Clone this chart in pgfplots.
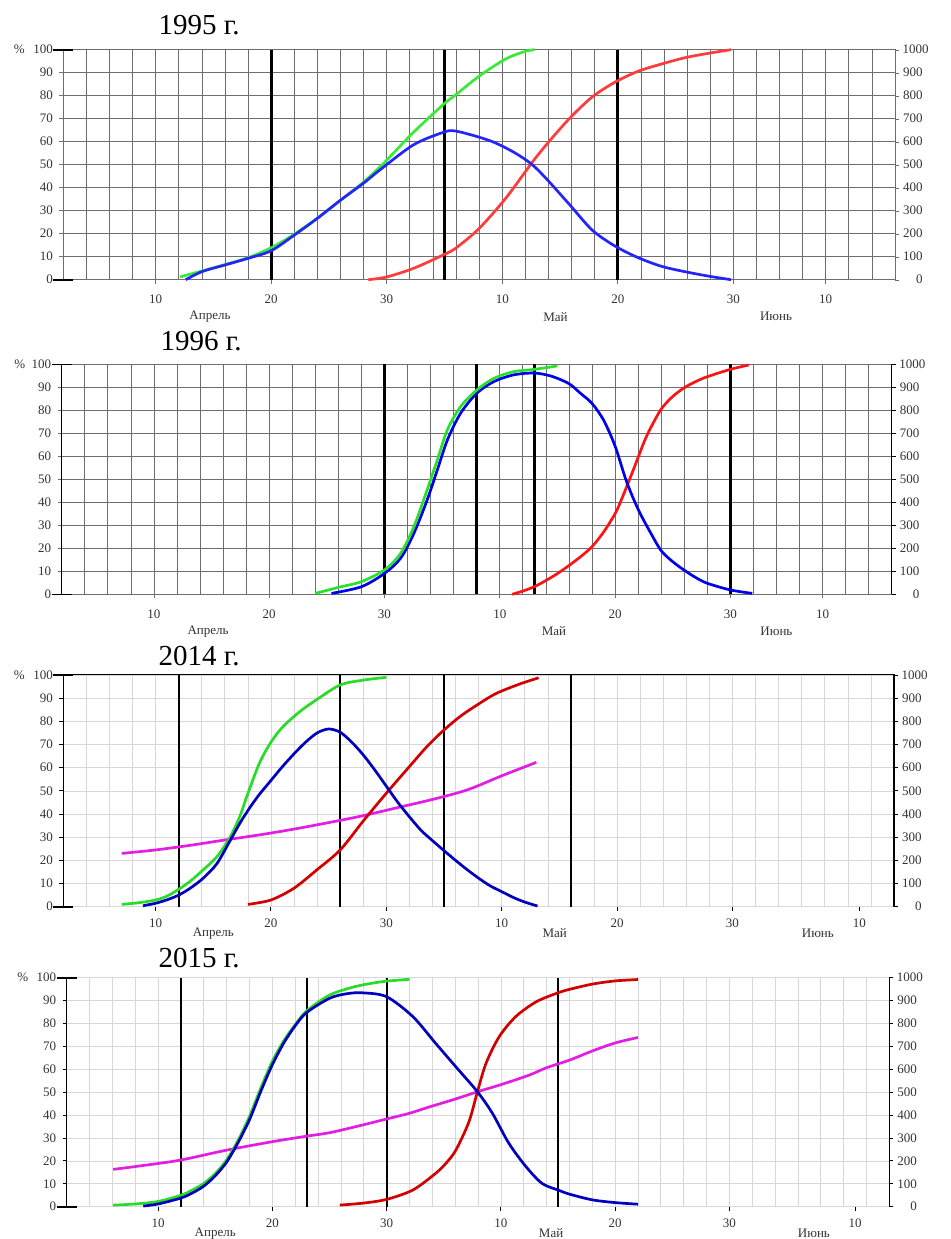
\documentclass[border=0pt]{standalone}
\usepackage{pgfplots}
\pgfplotsset{compat=1.18}
\usepackage{fontspec}
\setmainfont{Liberation Serif}
\definecolor{gA}{RGB}{55,235,55}
\definecolor{bA}{RGB}{36,36,255}
\definecolor{rA}{RGB}{255,59,59}
\definecolor{gB}{RGB}{40,225,40}
\definecolor{bB}{RGB}{0,0,235}
\definecolor{rB}{RGB}{250,20,20}
\definecolor{gC}{RGB}{40,220,40}
\definecolor{bC}{RGB}{0,0,190}
\definecolor{rC}{RGB}{210,0,0}
\definecolor{mC}{RGB}{225,30,225}
\definecolor{gridD}{RGB}{110,110,110}
\definecolor{gridL}{RGB}{215,215,215}
\newcommand{\tfont}{\fontsize{13}{14}\selectfont}
\tikzset{
  ttl/.style={anchor=base west, font=\fontsize{29}{30}\selectfont},
  mon/.style={font=\tfont, text=black!80},
}
\pgfplotsset{
  base/.style={scale only axis, xmin=2, xmax=74, ymin=0, ymax=100, clip=false,
    minor xtick={2,4,...,74}, xminorgrids, ymajorgrids, ytick={0,10,...,100},
    ytick pos=left, xtick pos=bottom, tick align=outside,
    major tick length=4pt, minor tick length=0pt,
    ticklabel style={font=\tfont, text=black!80},
    yticklabel style={xshift=-3pt},
    /pgf/number format/assume math mode=true,
    extra y ticks={0,100}, extra y tick labels={},
    extra y tick style={tick align=center, major tick length=20pt, tick style={black, line width=1.6pt}},
  },
  old/.style={base, minor grid style={gridD, line width=0.7pt}, major grid style={gridD, line width=0.7pt},
    xtick={10,20,30,40,50,60,68}, xticklabels={10,20,30,10,20,30,10},
    xticklabel style={yshift=-8pt}, tick style={gridD, line width=0.7pt}},
  new/.style={base, minor grid style={gridL, line width=0.7pt}, major grid style={gridL, line width=0.7pt},
    xtick={10,20,30,40,50,60,71}, xticklabels={10,20,30,10,20,30,10},
    xticklabel style={yshift=-5pt}, tick style={black, line width=1pt},
    axis line style={black, line width=1.3pt}},
  rightax/.style={scale only axis, xmin=2, xmax=74, ymin=0, ymax=1000, axis y line*=right, axis x line=none,
    ytick={0,100,...,1000}, tick align=outside, major tick length=4pt,
    yticklabel style={font=\tfont, text=black!80, anchor=west, text width=20pt, align=right, xshift=0pt},
    /pgf/number format/assume math mode=true, /pgf/number format/1000 sep={}},
  curve/.style={line width=2.7pt, smooth},
  vline/.style={black, line width=2.6pt},
}
\begin{document}
\begin{tikzpicture}[x=1pt,y=1pt]
\useasboundingbox (0,0) rectangle (950,-1239);
% ---------------- 1995 ----------------
\node[ttl] at (155,-35) {1995 г.};
\begin{axis}[old, at={(63.3pt,-279.7pt)}, anchor=south west, width=831.7pt, height=230pt,
  axis line style={gridD, line width=0.7pt}]
\addplot[vline] coordinates {(20,0) (20,100)};
\addplot[vline] coordinates {(35,0) (35,100)};
\addplot[vline] coordinates {(50,0) (50,100)};
\addplot[curve, rA] coordinates {(28.4,0) (30,1.2) (32.3,4.9) (34.86,10.7) (36,13.8) (38,22.3) (40.3,35.4) (42.5,50.4) (43.8,58.6) (45.8,70) (47.8,79.5) (49.8,86) (51.8,90.7) (53.8,93.8) (55.8,96.5) (57.8,98.4) (59.8,100)};
\addplot[curve, gA] coordinates {(12.1,1.2) (14,3.8) (16,6.6) (18,9.6) (20,13.9) (22,19.8) (24,26.8) (26,34.5) (28,42.5) (29.4,49) (30,52) (32.3,64) (34.86,76) (36,80.5) (38,88.5) (40.3,96) (42,99.3) (42.8,100)};
\addplot[curve, bA] coordinates {(12.6,0) (14,3.5) (16,6.4) (18,9.3) (20,12.6) (22,19.4) (24,26.7) (26,34.6) (28,42) (29.4,47.7) (32.3,58.6) (34.86,64) (36,64.6) (38.9,60.5) (40.9,55.7) (42.5,50.4) (43.8,44) (45.8,32.8) (47.8,21.5) (49.8,14.5) (51.8,9.5) (53.8,5.8) (55.8,3.5) (57.8,1.6) (59.8,0)};
\node[mon] at (axis cs:14.7,0) [yshift=-37pt] {Апрель};
\node[mon] at (axis cs:44.6,0) [yshift=-37pt] {Май};
\node[mon] at (axis cs:63.7,0) [yshift=-37pt] {Июнь};
\node[mon] at (rel axis cs:0,1) [xshift=-44pt] {\%};
\end{axis}
\begin{axis}[rightax, at={(63.3pt,-279.7pt)}, anchor=south west, width=831.7pt, height=230pt,
  axis line style={gridD, line width=0.7pt}, tick style={gridD}]
\node[mon, anchor=west] at (rel axis cs:1,1) [xshift=38pt] {°C};
\end{axis}
% ---------------- 1996 ----------------
\node[ttl] at (157,-350.7) {1996 г.};
\begin{axis}[old, at={(61.7pt,-594.3pt)}, anchor=south west, width=830pt, height=230pt,
  axis line style={black, line width=1.3pt}]
\addplot[vline] coordinates {(30,0) (30,100)};
\addplot[vline] coordinates {(38,0) (38,100)};
\addplot[vline] coordinates {(43,0) (43,100)};
\addplot[vline] coordinates {(60,0) (60,100)};
\addplot[curve, rB] coordinates {(41.08,0) (42,1.4) (43,3.3) (44,6) (45,9) (46,12.5) (47,16.3) (48,20.7) (49,27) (50,35) (50.5,40.5) (51,46.7) (51.5,53) (52,59.5) (52.5,66) (53,71.5) (54,80.5) (55,86) (56,89.8) (57,92.5) (58,94.6) (60,97.8) (61.6,99.7)};
\addplot[curve, bB] coordinates {(25.4,0.4) (28,3.3) (30,9.1) (31.4,15.7) (32.55,26.5) (33.7,41) (34.58,54) (35.45,67) (36.6,78.7) (38,87.4) (39.5,92.5) (41.2,95.4) (43,96.2) (44.5,94.8) (46,91.6) (47,87.4) (48,83) (49,75.8) (50,64.5) (51,49) (52,37) (53,27.5) (54,19) (55,14.2) (56,10.5) (57,7.3) (58,4.8) (60,1.9) (61.9,0.4)};
\addplot[curve, gB] coordinates {(24,0.4) (26,3) (28,5.5) (30,10.6) (31.4,17.8) (32.55,29.4) (33.7,45.4) (34.58,58.4) (35.45,71.4) (36.6,81.6) (38,88.8) (39.5,93.9) (41.2,96.8) (43,97.8) (45,99.3)};
\node[mon] at (axis cs:14.7,0) [yshift=-37pt] {Апрель};
\node[mon] at (axis cs:44.7,0) [yshift=-37pt] {Май};
\node[mon] at (axis cs:64,0) [yshift=-37pt] {Июнь};
\node[mon] at (rel axis cs:0,1) [xshift=-42pt] {\%};
\end{axis}
\begin{axis}[rightax, at={(61.7pt,-594.3pt)}, anchor=south west, width=830pt, height=230pt,
  axis line style={black, line width=1.3pt}, tick style={black}]
\node[mon, anchor=west] at (rel axis cs:1,1) [xshift=38pt] {°C};
\end{axis}
% ---------------- 2014 ----------------
\node[ttl] at (155,-665) {2014 г.};
\begin{axis}[new, at={(63.3pt,-906.7pt)}, anchor=south west, width=830.7pt, height=231.7pt]
\addplot[vline, line width=2pt] coordinates {(12,0) (12,100)};
\addplot[vline, line width=2pt] coordinates {(26,0) (26,100)};
\addplot[vline, line width=2pt] coordinates {(35,0) (35,100)};
\addplot[vline, line width=2pt] coordinates {(46,0) (46,100)};
\addplot[curve, mC] coordinates {(7.06,23) (10,24.5) (13,26.5) (16,28.8) (19,31) (22,33.5) (25,36.3) (28,39.3) (31,42.8) (34,46.3) (37,50.4) (40,56.5) (43,62.3)};
\addplot[curve, rC] coordinates {(18,1) (20,2.9) (22,8) (24,16) (26,24.5) (28,37) (30,49) (32,60.5) (33.5,69) (35,76.3) (36.5,82.5) (38,87.5) (39.5,92) (41.5,96) (43.2,98.8)};
\addplot[curve, gC] coordinates {(7.06,1) (8.5,1.7) (10,2.9) (11,4.6) (12,7.5) (13,11) (14.1,15.8) (15.3,21.5) (16.4,29.5) (17.3,39) (17.9,47.5) (19,62) (20,71) (21,77.5) (22.5,84.2) (24,89.5) (26,95.7) (28,97.8) (30,99)};
\addplot[curve, bC] coordinates {(8.9,0.4) (10,1.5) (11,3) (12,5) (13,8) (14.1,12.2) (15.3,18.5) (16.4,28) (17.3,36) (18.2,43) (19,48.5) (20,54.5) (21,60.5) (22,66) (23,71) (24,75) (25,76.7) (26,75.3) (27,71) (28,65.5) (29,59) (30,52) (31,45) (32,38.8) (33,33) (34,28.5) (35,24.2) (36,20) (37,16) (38,12.3) (39,9) (40,6.5) (41,4) (42,2) (43.1,0.3)};
\node[mon] at (axis cs:15,0) [yshift=-26.6pt] {Апрель};
\node[mon] at (axis cs:44.6,0) [yshift=-26.6pt] {Май};
\node[mon] at (axis cs:67.4,0) [yshift=-26.6pt] {Июнь};
\node[mon] at (rel axis cs:0,1) [xshift=-44pt] {\%};
\end{axis}
\begin{axis}[rightax, at={(63.3pt,-906.7pt)}, anchor=south west, width=830.7pt, height=231.7pt,
  axis line style={black, line width=1.3pt}, tick style={black, line width=1pt}]
\node[mon, anchor=west] at (rel axis cs:1,1) [xshift=38pt] {°C};
\end{axis}
% ---------------- 2015 ----------------
\node[ttl] at (155,-967.7) {2015 г.};
\begin{axis}[new, at={(66.7pt,-1206.7pt)}, anchor=south west, width=822.6pt, height=229pt]
\addplot[vline, line width=2pt] coordinates {(12,0) (12,100)};
\addplot[vline, line width=2pt] coordinates {(23,0) (23,100)};
\addplot[vline, line width=2pt] coordinates {(30,0) (30,100)};
\addplot[vline, line width=2pt] coordinates {(45,0) (45,100)};
\addplot[curve, mC] coordinates {(6.07,16.3) (9,18.2) (12,20.4) (16,24.7) (20,28.4) (23,30.8) (25,32.3) (27.5,35.2) (30,38.3) (32,40.8) (33.7,43.5) (36,47) (37.95,50.2) (40,53.3) (42.5,57.5) (44,60.7) (46,64) (48,68) (50,71.5) (52,73.9)};
\addplot[curve, rC] coordinates {(25.9,0.7) (28,1.6) (30,3.2) (32.3,7.3) (34.3,14.6) (35.2,19) (36.06,24.7) (37.2,37) (37.95,50.2) (38.7,62.6) (39.85,74.2) (41.3,83) (43.1,89.5) (45,93.4) (46,94.9) (48,97.2) (50,98.6) (52,99.2)};
\addplot[curve, gC] coordinates {(6.07,0.7) (8,1.2) (10,2.3) (12,5) (13,7.3) (14,10.2) (15,14.5) (16,20.5) (17,29) (18,39.5) (19,52) (20,63.5) (21,72.5) (22,79.5) (23,85.5) (25,92.4) (27,95.8) (28.5,97.4) (30,98.5) (32,99.3)};
\addplot[curve, bC] coordinates {(8.7,0.3) (10,1.2) (12,3.8) (13,6) (14,9) (15,13.5) (16,19.5) (17,28) (18,38) (19,50.5) (20,62) (21,71.5) (22,79) (23,84.8) (25,91) (26.5,93) (27.9,93.4) (30,91.7) (32.3,83) (34.3,71.3) (36.06,61.1) (37.95,50.2) (39.26,40.8) (40.7,27.7) (42.2,17.5) (43.6,10.2) (45,7.3) (46,5.5) (48,3) (50,1.8) (52,1.1)};
\node[mon] at (axis cs:15,0) [yshift=-26.6pt] {Апрель};
\node[mon] at (axis cs:44.4,0) [yshift=-26.6pt] {Май};
\node[mon] at (axis cs:67.4,0) [yshift=-26.6pt] {Июнь};
\node[mon] at (rel axis cs:0,1) [xshift=-44pt] {\%};
\end{axis}
\begin{axis}[rightax, at={(66.7pt,-1206.7pt)}, anchor=south west, width=822.6pt, height=229pt,
  axis line style={black, line width=1.3pt}, tick style={black, line width=1pt}]
\node[mon, anchor=west] at (rel axis cs:1,1) [xshift=38pt] {°C};
\end{axis}
\end{tikzpicture}
\end{document}
